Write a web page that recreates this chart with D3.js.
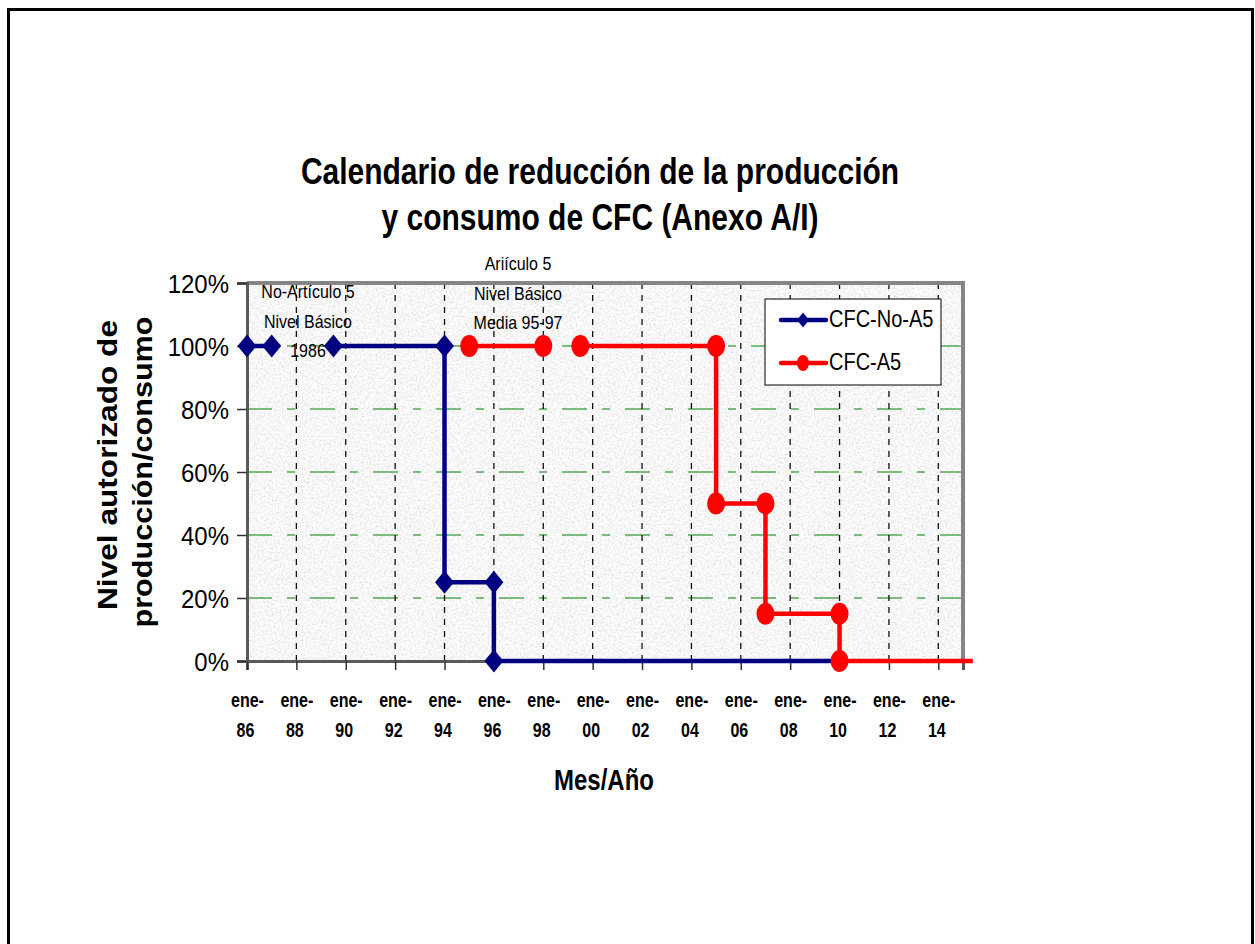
<!DOCTYPE html>
<html>
<head>
<meta charset="utf-8">
<script src="https://cdn.jsdelivr.net/npm/d3@7"></script>
<style>
  body { margin: 0; background: #fff; }
  svg { display: block; font-family: "Liberation Sans", Arial, sans-serif; }
</style>
</head>
<body>
<svg width="1255" height="944"></svg>
<script>
// series data (year as decimal, null = break in the line)
const noA5Years  = [1986, 1987, null, 1989.5, 1994, 1994, 1996, 1996, 2010];
const noA5Values = [1, 1, null, 1, 1, 0.25, 0.25, 0, 0];
const noA5Marker = [1, 1, 0, 1, 1, 1, 1, 1, 0];

const a5Years  = [1995, 1998, null, 1999.5, 2005, 2005, 2007, 2007, 2010, 2010, 2015.4];
const a5Values = [1, 1, null, 1, 1, 0.5, 0.5, 0.15, 0.15, 0, 0];
const a5Marker = [1, 1, 0, 1, 1, 1, 1, 1, 1, 1, 0];

const tickYears = [1986, 1988, 1990, 1992, 1994, 1996, 1998, 2000, 2002, 2004, 2006, 2008, 2010, 2012, 2014];
const yTicks = [0, 0.2, 0.4, 0.6, 0.8, 1, 1.2];
const titleLines = ['Calendario de reducción de la producción', 'y consumo de CFC (Anexo A/I)'];
const yTitleLines = ['Nivel autorizado de', 'producción/consumo'];
const noteNoA5 = ['No-Artículo 5', 'Nivel Básico', '1986'];
const noteA5 = ['Ariículo 5', 'Nivel Básico', 'Media 95-97'];
const seriesNames = ['CFC-No-A5', 'CFC-A5'];

const svg = d3.select('svg');
const plot = {left: 247, top: 283, right: 963, bottom: 661};

const x = d3.scaleLinear().domain([1986, 2015]).range([plot.left, plot.right]);
const y = d3.scaleLinear().domain([0, 1.2]).range([plot.bottom, plot.top]);

const toPoints = (xs, vs, ms) => xs.map((d, i) => ({year: d, value: vs[i], marker: ms[i]}));
const noA5 = toPoints(noA5Years, noA5Values, noA5Marker);
const a5 = toPoints(a5Years, a5Values, a5Marker);

// outer frame
svg.append('rect').attr('x', 8.5).attr('y', 9.5).attr('width', 1244).attr('height', 1000)
  .attr('fill', 'none').attr('stroke', '#000').attr('stroke-width', 3);

// textured plot background
const defs = svg.append('defs');
const f = defs.append('filter').attr('id', 'granite').attr('x', 0).attr('y', 0).attr('width', 1).attr('height', 1);
f.append('feTurbulence').attr('type', 'fractalNoise').attr('baseFrequency', 0.5).attr('numOctaves', 3).attr('seed', 4);
f.append('feColorMatrix').attr('type', 'saturate').attr('values', 0);
const ct = f.append('feComponentTransfer');
['feFuncR', 'feFuncG', 'feFuncB'].forEach(n => ct.append(n).attr('type', 'linear').attr('slope', 0.7).attr('intercept', 0.58));
ct.append('feFuncA').attr('type', 'table').attr('tableValues', '1 1');

svg.append('rect').attr('x', plot.left).attr('y', plot.top)
  .attr('width', plot.right - plot.left).attr('height', plot.bottom - plot.top)
  .attr('fill', '#e9e9e9').attr('filter', 'url(#granite)');

// gridlines
svg.append('g').selectAll('line').data(yTicks.filter(d => d > 0 && d < 1.2)).join('line')
  .attr('x1', plot.left).attr('x2', plot.right)
  .attr('y1', d => y(d)).attr('y2', d => y(d))
  .attr('stroke', '#008000').attr('stroke-width', 1).attr('stroke-dasharray', '25,15,8,15');

svg.append('g').selectAll('line').data(tickYears.slice(1)).join('line')
  .attr('x1', d => x(d)).attr('x2', d => x(d))
  .attr('y1', plot.top).attr('y2', plot.bottom)
  .attr('stroke', '#111').attr('stroke-width', 1.3).attr('stroke-dasharray', '6,6');

// plot border top/right
svg.append('path')
  .attr('d', `M${plot.left},${plot.top} H${plot.right} V${plot.bottom}`)
  .attr('fill', 'none').attr('stroke', '#858585').attr('stroke-width', 4);

// axes
const yAxisG = svg.append('g').attr('transform', `translate(${plot.left},0)`)
  .call(d3.axisLeft(y).tickValues(yTicks).tickSize(10).tickFormat(d3.format('.0%')));
yAxisG.select('.domain').attr('stroke', '#5a5a5a').attr('stroke-width', 3);
yAxisG.selectAll('.tick line').attr('stroke', '#333').attr('stroke-width', 1.5);
yAxisG.selectAll('.tick text')
  .attr('x', null).attr('dy', null)
  .attr('transform', 'translate(-18,9) scale(1,1.08)')
  .attr('font-size', 24).attr('fill', '#000');

const xAxisG = svg.append('g').attr('transform', `translate(0,${plot.bottom})`)
  .call(d3.axisBottom(x).tickValues(tickYears).tickSize(9).tickFormat(''));
xAxisG.select('.domain').attr('stroke', '#5a5a5a').attr('stroke-width', 3);
xAxisG.selectAll('.tick line').attr('stroke', '#333').attr('stroke-width', 1.5);
xAxisG.selectAll('.tick').each(function(d) {
  const t = d3.select(this);
  t.append('text').text('ene-').attr('transform', 'translate(0,46) scale(1,1.25)')
    .attr('text-anchor', 'middle').attr('font-size', 16).attr('font-weight', 'bold').attr('fill', '#000');
  t.append('text').text(String(d).slice(2)).attr('transform', 'translate(-2,76) scale(1,1.25)')
    .attr('text-anchor', 'middle').attr('font-size', 16).attr('font-weight', 'bold').attr('fill', '#000');
});

// titles
svg.append('g').selectAll('text').data(titleLines).join('text')
  .attr('transform', (d, i) => `translate(600,${184 + i * 46}) scale(1,1.2)`)
  .attr('text-anchor', 'middle').attr('font-size', 30).attr('font-weight', 'bold')
  .text(d => d);

svg.append('text').attr('transform', 'translate(604,790) scale(1,1.2)')
  .attr('text-anchor', 'middle').attr('font-size', 24).attr('font-weight', 'bold')
  .text('Mes/Año');

svg.append('g').selectAll('text').data(yTitleLines).join('text')
  .attr('transform', (d, i) => `translate(${117 + i * 35},${[465, 472][i]}) rotate(-90)`)
  .attr('text-anchor', 'middle').attr('font-size', 27).attr('font-weight', 'bold')
  .attr('textLength', (d, i) => [290, 311][i]).attr('lengthAdjust', 'spacingAndGlyphs')
  .text(d => d);

// annotations
const note = (lines, cx, y0) => svg.append('g').selectAll('text').data(lines).join('text')
  .attr('transform', (d, i) => `translate(${cx},${y0 + i * 29.5}) scale(1,1.2)`)
  .attr('text-anchor', 'middle').attr('font-size', 16).text(d => d);
note(noteNoA5, 308, 298);
note(noteA5, 518, 270);

// series
const line = d3.line().defined(d => d.year !== null).x(d => x(d.year)).y(d => y(d.value));
const diamond = (w, h) => `M0,${-h} L${w},0 L0,${h} L${-w},0Z`;

const drawSeries = (data, colour, shape) => {
  const g = svg.append('g');
  g.append('path').datum(data).attr('d', line)
    .attr('fill', 'none').attr('stroke', colour).attr('stroke-width', 4.5);
  const pts = data.filter(d => d.marker);
  if (shape === 'diamond') {
    g.selectAll('path.m').data(pts).join('path').attr('class', 'm')
      .attr('transform', d => `translate(${x(d.year)},${y(d.value)})`)
      .attr('d', diamond(9.5, 11.5)).attr('fill', colour);
  } else {
    g.selectAll('ellipse').data(pts).join('ellipse')
      .attr('cx', d => x(d.year)).attr('cy', d => y(d.value))
      .attr('rx', 9).attr('ry', 11).attr('fill', colour);
  }
};
drawSeries(noA5, '#000080', 'diamond');
drawSeries(a5, '#ff0000', 'circle');

// legend
const legendG = svg.append('g').attr('transform', 'translate(765,299)');
legendG.append('rect').attr('width', 176).attr('height', 86)
  .attr('fill', '#fff').attr('stroke', '#000').attr('stroke-width', 1);
const legendItems = legendG.selectAll('g').data(seriesNames).join('g')
  .attr('transform', (d, i) => `translate(0,${21 + i * 43})`);
legendItems.append('line').attr('x1', 16).attr('x2', 61)
  .attr('stroke', (d, i) => ['#000080', '#ff0000'][i]).attr('stroke-width', 4.5).attr('stroke-linecap', 'round');
legendItems.filter((d, i) => i === 0).append('path').attr('transform', 'translate(38,0)')
  .attr('d', diamond(6, 7.5)).attr('fill', '#000080');
legendItems.filter((d, i) => i === 1).append('ellipse').attr('cx', 38).attr('rx', 6).attr('ry', 8).attr('fill', '#ff0000');
legendItems.append('text').attr('transform', 'translate(64,7) scale(1,1.2)')
  .attr('font-size', 20).text(d => d);
</script>
</body>
</html>
